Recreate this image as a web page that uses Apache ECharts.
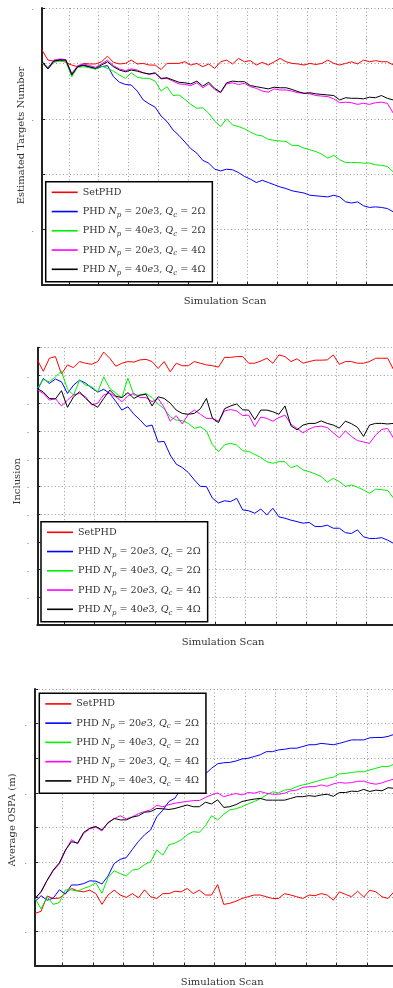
<!DOCTYPE html>
<html>
<head>
<meta charset="utf-8">
<title>SetPHD vs PHD</title>
<script src="https://cdn.jsdelivr.net/npm/echarts@6/dist/echarts.min.js"></script>
<style>
html, body { margin: 0; padding: 0; background: #fff; }
#chart { width: 393px; height: 988px; }
</style>
</head>
<body>
<div id="chart"></div>
<script>
// scan index of every sample (every second scan)
var scans = [1, 3, 5, 7, 9, 11, 13, 15, 17, 19, 21, 23, 25, 27, 29, 31, 33, 35, 37, 39,
  41, 43, 45, 47, 49, 51, 53, 55, 57, 59, 61, 63, 65, 67, 69, 71, 73, 75, 77, 79,
  81, 83, 85, 87, 89, 91, 93, 95, 97, 99, 101, 103, 105, 107, 109, 111, 113, 115, 117, 119];

var seriesNames = ['SetPHD', 'PHD Np = 20e3, Qc = 2Ω', 'PHD Np = 40e3, Qc = 2Ω',
  'PHD Np = 20e3, Qc = 4Ω', 'PHD Np = 40e3, Qc = 4Ω'];
var npVals = ['', '20', '40', '20', '40'];
var qcVals = ['', '2', '2', '4', '4'];

// --- estimated targets number ---
var numSet = [42.4, 40.6, 40.4, 40.6, 40.2, 39.7, 39.4, 40.0, 39.9, 39.9, 40.3, 41.3, 40.2, 39.9, 40.0, 40.6, 39.9, 40.0, 39.7, 39.7,
  38.9, 40.0, 40.0, 40.0, 40.3, 39.7, 40.0, 39.4, 39.9, 39.1, 40.3, 40.6, 39.9, 40.9, 40.3, 40.5, 39.7, 40.2, 39.7, 40.3,
  40.9, 40.3, 40.0, 39.9, 39.7, 40.0, 39.8, 40.0, 40.6, 40.0, 39.7, 40.0, 40.3, 39.9, 40.6, 40.3, 40.5, 40.3, 40.3, 39.7];
var num20x2 = [40.3, 39.2, 40.5, 40.7, 40.6, 37.8, 39.5, 39.6, 39.3, 39.0, 39.4, 39.6, 37.6, 36.6, 36.2, 36.1, 35.0, 33.4, 32.7, 32.1,
  30.5, 29.5, 28.0, 27.0, 25.8, 24.6, 23.8, 22.5, 22.0, 20.9, 20.6, 20.9, 20.8, 20.3, 19.6, 19.1, 18.5, 18.9, 18.5, 18.1,
  17.7, 17.4, 17.0, 16.8, 16.6, 16.2, 16.1, 16.0, 15.9, 16.2, 15.9, 15.0, 14.8, 15.0, 14.3, 14.0, 14.1, 14.0, 13.8, 13.2];
var num40x2 = [40.1, 39.0, 40.2, 40.4, 40.3, 37.6, 39.3, 39.4, 39.2, 39.0, 39.5, 39.1, 38.6, 37.9, 37.3, 38.3, 37.5, 37.3, 37.3, 36.8,
  35.0, 35.8, 34.2, 34.3, 33.5, 32.6, 31.9, 32.0, 31.0, 29.6, 28.6, 30.0, 28.9, 28.6, 28.2, 27.6, 27.1, 26.9, 26.3, 26.1,
  26.0, 25.9, 25.2, 25.2, 24.7, 24.4, 24.1, 23.6, 22.9, 23.4, 22.6, 22.1, 22.1, 22.1, 22.0, 22.0, 21.7, 21.6, 21.4, 20.4];
var num20x4 = [40.3, 39.2, 40.6, 40.8, 40.7, 38.2, 39.6, 39.9, 39.6, 39.3, 39.9, 40.6, 39.6, 39.0, 38.7, 39.0, 38.8, 38.3, 38.0, 38.2,
  37.2, 37.3, 36.8, 36.3, 36.2, 36.0, 36.5, 35.6, 36.3, 35.3, 34.7, 36.3, 36.5, 36.2, 36.4, 35.8, 35.5, 35.0, 34.8, 35.4,
  35.2, 35.2, 35.0, 34.7, 34.6, 34.5, 34.2, 34.1, 34.0, 33.6, 32.9, 33.0, 32.9, 32.6, 32.8, 32.6, 32.9, 33.0, 32.8, 31.0];
var num40x4 = [40.3, 39.0, 40.4, 40.6, 40.6, 38.0, 39.4, 39.7, 39.4, 39.1, 39.7, 40.3, 39.4, 38.8, 38.5, 38.8, 38.6, 38.3, 38.1, 38.3,
  37.3, 37.4, 37.0, 36.6, 36.5, 36.3, 36.8, 35.9, 36.6, 35.5, 34.8, 36.5, 36.8, 36.7, 36.7, 36.0, 35.8, 35.6, 35.4, 35.7,
  35.6, 35.6, 35.3, 34.9, 34.6, 34.7, 34.5, 34.4, 34.3, 34.2, 33.4, 33.8, 33.7, 33.7, 33.6, 33.9, 33.8, 34.2, 33.7, 33.4];

// --- inclusion ---
var incSet = [0.956, 0.915, 0.962, 0.968, 0.905, 0.938, 0.928, 0.950, 0.944, 0.940, 0.950, 0.984, 0.962, 0.933, 0.944, 0.950, 0.948, 0.956, 0.958, 0.950,
  0.925, 0.950, 0.913, 0.944, 0.935, 0.935, 0.950, 0.944, 0.938, 0.935, 0.930, 0.965, 0.965, 0.968, 0.968, 0.944, 0.944, 0.952, 0.962, 0.944,
  0.974, 0.968, 0.950, 0.960, 0.944, 0.950, 0.955, 0.955, 0.956, 0.974, 0.940, 0.950, 0.950, 0.944, 0.944, 0.950, 0.962, 0.962, 0.962, 0.920];
var inc20x2 = [0.847, 0.889, 0.871, 0.887, 0.877, 0.835, 0.865, 0.883, 0.872, 0.855, 0.840, 0.850, 0.835, 0.806, 0.775, 0.787, 0.760, 0.740, 0.716, 0.721,
  0.660, 0.662, 0.613, 0.580, 0.568, 0.550, 0.523, 0.500, 0.499, 0.457, 0.440, 0.448, 0.445, 0.457, 0.415, 0.412, 0.403, 0.418, 0.397, 0.421,
  0.390, 0.385, 0.378, 0.373, 0.367, 0.370, 0.355, 0.355, 0.360, 0.349, 0.349, 0.333, 0.330, 0.343, 0.318, 0.312, 0.312, 0.315, 0.306, 0.294];
var inc40x2 = [0.853, 0.885, 0.877, 0.895, 0.915, 0.850, 0.829, 0.883, 0.865, 0.860, 0.840, 0.895, 0.853, 0.836, 0.820, 0.890, 0.829, 0.829, 0.835, 0.820,
  0.797, 0.780, 0.751, 0.739, 0.737, 0.727, 0.709, 0.715, 0.700, 0.650, 0.625, 0.650, 0.655, 0.649, 0.628, 0.626, 0.615, 0.604, 0.589, 0.583,
  0.589, 0.589, 0.567, 0.575, 0.559, 0.553, 0.545, 0.535, 0.515, 0.529, 0.517, 0.500, 0.505, 0.497, 0.487, 0.475, 0.490, 0.488, 0.485, 0.457];
var inc20x4 = [0.848, 0.835, 0.811, 0.817, 0.790, 0.811, 0.830, 0.835, 0.823, 0.793, 0.800, 0.830, 0.836, 0.823, 0.805, 0.826, 0.835, 0.820, 0.820, 0.805,
  0.817, 0.785, 0.735, 0.755, 0.725, 0.760, 0.775, 0.760, 0.745, 0.745, 0.735, 0.772, 0.777, 0.772, 0.755, 0.757, 0.715, 0.750, 0.745, 0.735,
  0.748, 0.757, 0.724, 0.709, 0.693, 0.707, 0.715, 0.717, 0.712, 0.693, 0.675, 0.700, 0.680, 0.665, 0.660, 0.655, 0.685, 0.705, 0.709, 0.673];
var inc40x4 = [0.853, 0.840, 0.817, 0.815, 0.845, 0.785, 0.823, 0.841, 0.817, 0.798, 0.785, 0.817, 0.847, 0.825, 0.820, 0.838, 0.817, 0.829, 0.832, 0.790,
  0.823, 0.817, 0.800, 0.775, 0.763, 0.760, 0.763, 0.780, 0.817, 0.745, 0.730, 0.780, 0.790, 0.797, 0.776, 0.775, 0.740, 0.775, 0.775, 0.769,
  0.760, 0.790, 0.718, 0.704, 0.721, 0.727, 0.727, 0.736, 0.727, 0.721, 0.710, 0.735, 0.726, 0.713, 0.680, 0.721, 0.727, 0.727, 0.725, 0.727];

// --- average OSPA (m) ---
var ospaSet = [15.2, 15.8, 20.2, 19.5, 19.6, 21.0, 22.4, 21.7, 21.4, 21.9, 20.9, 17.8, 20.5, 21.9, 20.5, 19.8, 20.9, 19.7, 22.0, 20.0,
  19.5, 20.9, 20.9, 21.6, 21.4, 22.4, 20.9, 21.9, 20.5, 20.5, 23.5, 17.8, 18.1, 18.7, 19.5, 20.0, 20.5, 20.5, 20.0, 19.5,
  19.5, 20.9, 20.5, 20.0, 19.5, 20.5, 20.3, 20.9, 20.5, 19.0, 21.4, 20.7, 20.0, 21.6, 19.9, 21.9, 21.4, 20.0, 19.5, 21.5];
var ospa20x2 = [18.6, 20.3, 19.0, 19.6, 22.0, 20.8, 23.4, 23.4, 23.8, 24.6, 24.5, 23.7, 26.0, 29.6, 30.8, 31.3, 33.7, 36.0, 37.9, 39.3,
  43.1, 45.0, 47.5, 48.5, 51.2, 52.9, 55.2, 56.1, 55.5, 57.1, 58.4, 58.7, 58.8, 59.2, 59.8, 60.0, 60.5, 61.0, 61.9, 61.9,
  62.4, 62.6, 62.9, 62.9, 63.4, 63.9, 63.9, 64.3, 64.1, 63.9, 64.3, 64.8, 65.3, 65.3, 65.3, 65.9, 66.0, 66.0, 66.3, 66.9];
var ospa40x2 = [19.5, 16.5, 20.0, 17.8, 18.3, 22.0, 22.0, 21.6, 22.4, 23.0, 24.0, 21.0, 25.5, 27.5, 26.7, 26.0, 27.7, 28.0, 29.3, 30.1,
  33.5, 32.0, 35.0, 35.5, 36.4, 37.9, 38.8, 38.6, 40.5, 43.4, 42.2, 43.8, 45.1, 45.4, 46.0, 46.8, 47.5, 48.3, 49.4, 50.3,
  50.0, 50.8, 51.0, 51.8, 52.3, 52.7, 53.2, 53.7, 54.2, 54.5, 55.5, 55.6, 55.9, 56.1, 56.1, 56.6, 57.1, 57.6, 57.6, 58.3];
var ospa20x4 = [19.5, 21.3, 24.7, 27.5, 29.5, 33.3, 36.5, 35.3, 38.3, 39.6, 40.1, 39.0, 41.5, 42.5, 43.4, 42.5, 43.1, 44.0, 44.6, 45.1,
  46.4, 46.0, 46.6, 47.0, 47.3, 47.5, 47.8, 47.8, 48.7, 49.4, 50.0, 48.9, 49.4, 49.8, 49.4, 50.1, 49.9, 50.4, 49.9, 49.6,
  49.6, 49.9, 50.6, 50.8, 51.6, 51.8, 51.8, 52.3, 51.9, 52.6, 53.0, 52.8, 53.0, 53.3, 53.4, 52.8, 52.5, 52.9, 53.5, 54.0];
var ospa40x4 = [19.5, 21.5, 24.8, 27.7, 29.8, 33.5, 35.9, 35.5, 38.6, 39.8, 40.3, 39.3, 41.3, 42.6, 42.2, 42.2, 43.0, 43.4, 44.4, 44.6,
  45.5, 45.4, 45.2, 45.5, 46.0, 46.5, 46.0, 46.0, 47.3, 46.8, 48.0, 45.8, 46.0, 46.6, 47.5, 47.9, 48.2, 48.4, 47.9, 47.9,
  47.9, 47.9, 48.4, 48.9, 48.9, 49.2, 49.0, 49.4, 49.6, 49.0, 50.1, 50.1, 50.5, 50.4, 51.0, 50.4, 50.8, 50.6, 51.5, 51.3];

var colors = ['#ff0000', '#0000ff', '#00ee00', '#ff00ff', '#000000'];
var serif = 'DejaVu Serif';
var txtColor = '#333';

var panels = [
  { yName: 'Estimated Targets Number', data: [numSet, num20x2, num40x2, num20x4, num40x4],
    grid: { left: 42, top: 8, width: 366.2, height: 277 }, ymin: 0, ymax: 50, step: 10,
    yGap: 15.5, yShift: 22, xGap: 11,
    legend: { left: 45.7, top: 181.7 },
    label: function (v) { return Math.round(v / 10) % 2 === 1 ? '.' : ''; } },
  { yName: 'Inclusion', data: [incSet, inc20x2, inc40x2, inc20x4, inc40x4],
    grid: { left: 37.3, top: 347.7, width: 371.5, height: 277.3 }, ymin: 0, ymax: 1, step: 0.1,
    yGap: 15, yShift: 10, xGap: 12,
    legend: { left: 41, top: 521.7 },
    label: function (v) { return (v > 0.05 && v < 0.95) ? '.' : ''; } },
  { yName: 'Average OSPA (m)', data: [ospaSet, ospa20x2, ospa40x2, ospa20x4, ospa40x4],
    grid: { left: 35, top: 689, width: 374.4, height: 277 }, ymin: 0, ymax: 80, step: 10,
    yGap: 17.8, yShift: 15, xGap: 11,
    legend: { left: 39.3, top: 693.3 },
    label: function (v) { return Math.round(v / 10) % 2 === 1 ? '.' : ''; } }
];

function pairs(values) {
  return scans.map(function (s, k) { return [s, values[k]]; });
}

function legendLabel(name) {
  var k = seriesNames.indexOf(name);
  if (k === 0) return '{t|SetPHD}';
  return '{t|PHD }{i|N}{s|p}{t| = ' + npVals[k] + '}{i|e}{t|3, }{i|Q}{s|c}{t| = ' + qcVals[k] + 'Ω}';
}

var rich = {
  t: { fontFamily: serif, fontSize: 9.6, color: txtColor, lineHeight: 14 },
  i: { fontFamily: serif, fontStyle: 'italic', fontSize: 9.6, color: txtColor, lineHeight: 14 },
  s: { fontFamily: serif, fontStyle: 'italic', fontSize: 7, color: txtColor, lineHeight: 14, verticalAlign: 'bottom' }
};

var grids = [], xAxes = [], yAxes = [], legends = [], series = [];
panels.forEach(function (p, i) {
  var g = p.grid;
  g.outerBoundsMode = 'none';
  g.containLabel = false;
  grids.push(g);
  xAxes.push({
    type: 'value', gridIndex: i, min: 1, max: 124, minInterval: 10, maxInterval: 10,
    name: 'Simulation Scan', nameLocation: 'middle', nameGap: p.xGap, nameMoveOverlap: false,
    nameTextStyle: { fontFamily: serif, fontSize: 10, color: txtColor },
    axisLine: { show: true, onZero: false, lineStyle: { color: '#222', width: 2 } },
    axisTick: { show: true, inside: true, length: 3, lineStyle: { color: '#222' } },
    axisLabel: { show: false },
    splitLine: { show: true, lineStyle: { color: '#9a9a9a', width: 1, type: [1, 2.5] } }
  });
  yAxes.push({
    type: 'value', gridIndex: i, min: p.ymin, max: p.ymax, interval: p.step,
    name: p.yName, nameLocation: 'middle', nameGap: p.yGap, nameMoveOverlap: false,
    nameTextStyle: { fontFamily: serif, fontSize: 10, color: txtColor, padding: [0, 0, 0, p.yShift] },
    axisLine: { show: true, onZero: false, lineStyle: { color: '#222', width: 2 } },
    axisTick: { show: true, inside: true, length: 3, lineStyle: { color: '#222' } },
    axisLabel: { show: true, margin: 8, fontSize: 8, color: '#444', formatter: p.label },
    splitLine: { show: true, lineStyle: { color: '#9a9a9a', width: 1, type: [1, 2.5] } }
  });
  legends.push({
    left: p.legend.left, top: p.legend.top, orient: 'vertical', data: seriesNames,
    selectedMode: false, icon: 'rect', itemWidth: 26, itemHeight: 1.6, itemGap: 5.25,
    padding: [3.6, 7, 5.4, 6], borderColor: '#000', borderWidth: 1.5, backgroundColor: '#fff',
    formatter: legendLabel,
    textStyle: { fontFamily: serif, fontSize: 9.6, color: txtColor, lineHeight: 14, rich: rich }
  });
  p.data.forEach(function (vals, k) {
    series.push({
      name: seriesNames[k], type: 'line', xAxisIndex: i, yAxisIndex: i,
      data: pairs(vals), symbol: 'none', smooth: false,
      itemStyle: { color: colors[k] },
      lineStyle: { color: colors[k], width: 1 }
    });
  });
});

var chart = echarts.init(document.getElementById('chart'));
chart.setOption({
  animation: false,
  backgroundColor: '#fff',
  textStyle: { fontFamily: serif },
  grid: grids,
  xAxis: xAxes,
  yAxis: yAxes,
  legend: legends,
  series: series
});
</script>
</body>
</html>
